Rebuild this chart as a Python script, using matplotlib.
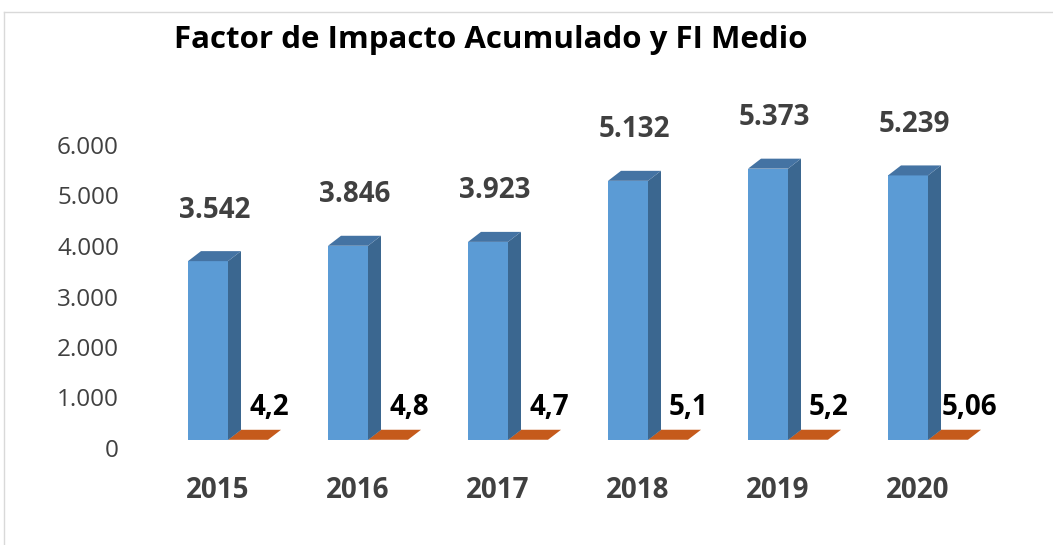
import matplotlib
matplotlib.use("Agg")
import matplotlib.pyplot as plt
import matplotlib.transforms as mtrans
from matplotlib.patches import Polygon
import numpy as np

# ---- data ----
years = ['2015', '2016', '2017', '2018', '2019', '2020']
fi_acumulado = [3542, 3846, 3923, 5132, 5373, 5239]
fi_medio = [4.2, 4.8, 4.7, 5.1, 5.2, 5.06]
acum_labels = ['3.542', '3.846', '3.923', '5.132', '5.373', '5.239']
medio_labels = ['4,2', '4,8', '4,7', '5,1', '5,2', '5,06']
y_ticks = [0, 1000, 2000, 3000, 4000, 5000, 6000]
y_tick_labels = ['0', '1.000', '2.000', '3.000', '4.000', '5.000', '6.000']
title = 'Factor de Impacto Acumulado y FI Medio'

# ---- style ----
FONT = 'Open Sans'
plt.rcParams['font.family'] = [FONT, 'DejaVu Sans']
TXT = '#404040'
BLUE_FRONT = '#5B9BD5'
BLUE_SIDE = '#3B6790'
BLUE_TOP = '#4473A3'
ORANGE_TOP = '#C55A1B'

W, H, DPI = 10.53, 5.45, 100
fig = plt.figure(figsize=(W, H), dpi=DPI)

# axes in pixel layout
ax_left, ax_right = 130, 1000
ax_bottom = 105          # value 0 (front base)
ax_top = 509
ax = fig.add_axes([ax_left / 1053, ax_bottom / 545,
                   (ax_right - ax_left) / 1053, (ax_top - ax_bottom) / 545])

px_per_cat = 140.0
first_center = 208.0
xlim = ((ax_left - first_center) / px_per_cat, (ax_right - first_center) / px_per_cat)
px_per_val = 0.0505
ylim = (0, (ax_top - ax_bottom) / px_per_val)
ax.set_xlim(*xlim)
ax.set_ylim(*ylim)

x = np.arange(len(years))
w = 40 / px_per_cat
dx = 13 / px_per_cat
dy = 10 / px_per_val

# blue bars (front)
ax.bar(x, fi_acumulado, width=w, color=BLUE_FRONT, zorder=3, clip_on=False)
for xi, v in zip(x, fi_acumulado):
    r = xi + w / 2
    l = xi - w / 2
    ax.add_patch(Polygon([(r, 0), (r + dx, dy), (r + dx, v + dy), (r, v)],
                         closed=True, facecolor=BLUE_SIDE, edgecolor='none', zorder=3, clip_on=False))
    ax.add_patch(Polygon([(l, v), (r, v), (r + dx, v + dy), (l + dx, v + dy)],
                         closed=True, facecolor=BLUE_TOP, edgecolor='none', zorder=3, clip_on=False))

# orange bars (almost zero height -> only top face visible)
xo = x + w
ax.bar(xo, fi_medio, width=w, color=ORANGE_TOP, zorder=2, clip_on=False)
for xi, v in zip(xo, fi_medio):
    l = xi - w / 2
    r = xi + w / 2
    ax.add_patch(Polygon([(l, v), (r, v), (r + dx, v + dy), (l + dx, v + dy)],
                         closed=True, facecolor=ORANGE_TOP, edgecolor='none', zorder=2, clip_on=False))

# value labels
for xi, v, lab in zip(x, fi_acumulado, acum_labels):
    ax.annotate(lab, (xi + dx / 2, v + dy), xytext=(0, 41 * 72 / DPI), textcoords='offset points',
                ha='center', va='center', fontsize=20, fontweight='bold', color=TXT)
for xi, v, lab in zip(xo, fi_medio, medio_labels):
    ax.annotate(lab, (xi, v), xytext=(21 * 72 / DPI, 32 * 72 / DPI), textcoords='offset points',
                ha='center', va='center', fontsize=20, fontweight='bold', color='#000000')

# axes / ticks
for s in ax.spines.values():
    s.set_visible(False)
ax.set_yticks(y_ticks)
ax.set_yticklabels(y_tick_labels)
ax.tick_params(axis='y', length=0, pad=8, labelsize=17.5, labelcolor=TXT)
ax.set_xticks(x + 10 / px_per_cat)
ax.set_xticklabels(years)
ax.tick_params(axis='x', length=0, pad=26, labelsize=20, labelcolor=TXT)
for lab in ax.get_xticklabels():
    lab.set_fontweight('bold')

off = mtrans.ScaledTranslation(0, -8 / DPI, fig.dpi_scale_trans)
for lab in ax.get_yticklabels():
    lab.set_transform(lab.get_transform() + off)

# title
fig.text(491 / 1053, 1 - 40 / 545, title, ha='center', va='center',
         fontsize=22.5, fontweight='bold', color='#000000')

# chart border
fig.add_artist(plt.Line2D([4 / 1053, 1], [1 - 12 / 545, 1 - 12 / 545], color='#D9D9D9', lw=1))
fig.add_artist(plt.Line2D([4 / 1053, 4 / 1053], [0, 1 - 12 / 545], color='#D9D9D9', lw=1))

fig.savefig('out.png', dpi=DPI, facecolor='white')
